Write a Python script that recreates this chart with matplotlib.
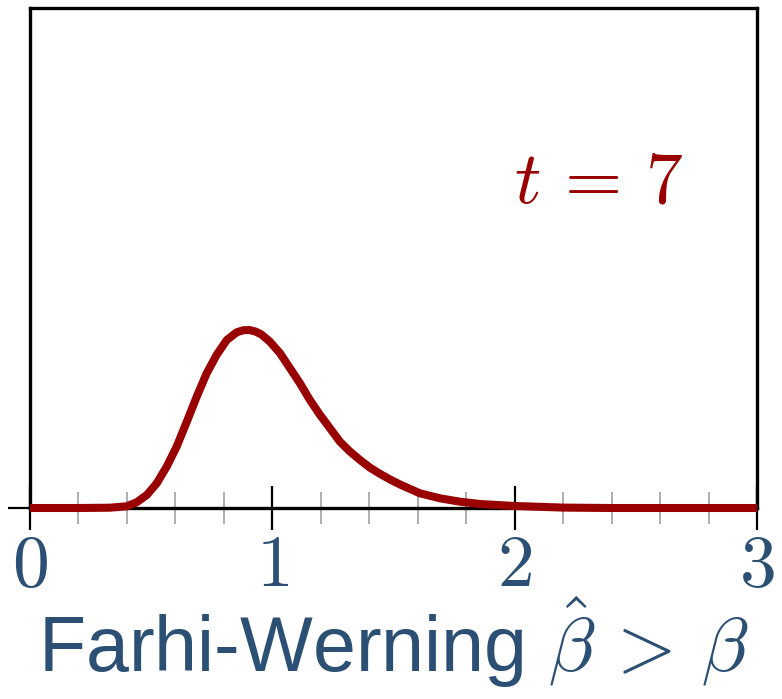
import matplotlib
matplotlib.use("Agg")
import matplotlib.pyplot as plt
from matplotlib.ticker import FixedLocator, MultipleLocator, FuncFormatter

plt.rcParams['font.family'] = ['Liberation Sans', 'DejaVu Sans']
plt.rcParams['mathtext.fontset'] = 'cm'

# Curve (beta, density in axis units)
beta = [0.0, 0.20, 0.330, 0.399, 0.440, 0.482, 0.523, 0.564, 0.605, 0.647,
        0.688, 0.729, 0.770, 0.812, 0.853, 0.880, 0.905, 0.930, 0.955, 0.990,
        1.032, 1.073, 1.114, 1.155, 1.197, 1.238, 1.279, 1.321, 1.362, 1.403,
        1.444, 1.486, 1.527, 1.609, 1.692, 1.774, 1.857, 2.0, 2.2, 2.4, 3.0]
density = [0.0, 0.0, 0.0006, 0.0034, 0.0114, 0.026, 0.0494, 0.0826, 0.1226, 0.1726,
           0.2226, 0.2694, 0.306, 0.336, 0.3514, 0.3555, 0.356, 0.353, 0.347, 0.3326,
           0.3094, 0.2794, 0.2494, 0.216, 0.186, 0.1594, 0.1326, 0.1126, 0.096, 0.0806,
           0.0684, 0.057, 0.047, 0.0294, 0.0194, 0.0126, 0.008, 0.004, 0.0008, 0.0, 0.0]
major_ticks = [0, 1, 2, 3]
tick_labels = ['0', '1', '2', '3']
annotation = r'$t\,=\,7$'
xlabel = r'Farhi-Werning $\hat{\beta}\, >\, \beta$'

red = '#990000'
blue = '#2c5073'

fig = plt.figure(figsize=(7.82, 6.99), dpi=100)
ax = fig.add_axes([30/782, 1 - 508/699, 727/782, 500/699])
ax.plot(beta, density, color=red, lw=5.8, solid_capstyle='butt',
        solid_joinstyle='round', clip_on=False, zorder=5)
ax.set_xlim(0, 3)
ax.set_ylim(0, 1)

for s in ax.spines.values():
    s.set_linewidth(2.4)
    s.set_color('black')

ax.xaxis.set_major_locator(FixedLocator(major_ticks))
ax.xaxis.set_major_formatter(FuncFormatter(
    lambda v, p: '$%s$' % tick_labels[p] if p is not None and p < len(tick_labels) else '$%g$' % v))
ax.xaxis.set_minor_locator(MultipleLocator(0.2))
ax.tick_params(axis='x', which='major', direction='inout', length=31, width=1.6,
               color='black', labelsize=53, labelcolor=blue, pad=2)
ax.tick_params(axis='x', which='minor', direction='inout', length=23, width=1.1,
               color='#999999')
ax.yaxis.set_major_locator(FixedLocator([0]))
ax.yaxis.set_minor_locator(FixedLocator([]))
ax.tick_params(axis='y', which='major', direction='out', length=16, width=1.6,
               color='black', labelleft=False)

ax.text(0.898, 0.612, annotation, transform=ax.transAxes, ha='right', va='baseline',
        fontsize=53, color=red)
ax.set_xlabel(xlabel, fontsize=55.5, color=blue, labelpad=-5)

fig.savefig('out.png', dpi=100)
